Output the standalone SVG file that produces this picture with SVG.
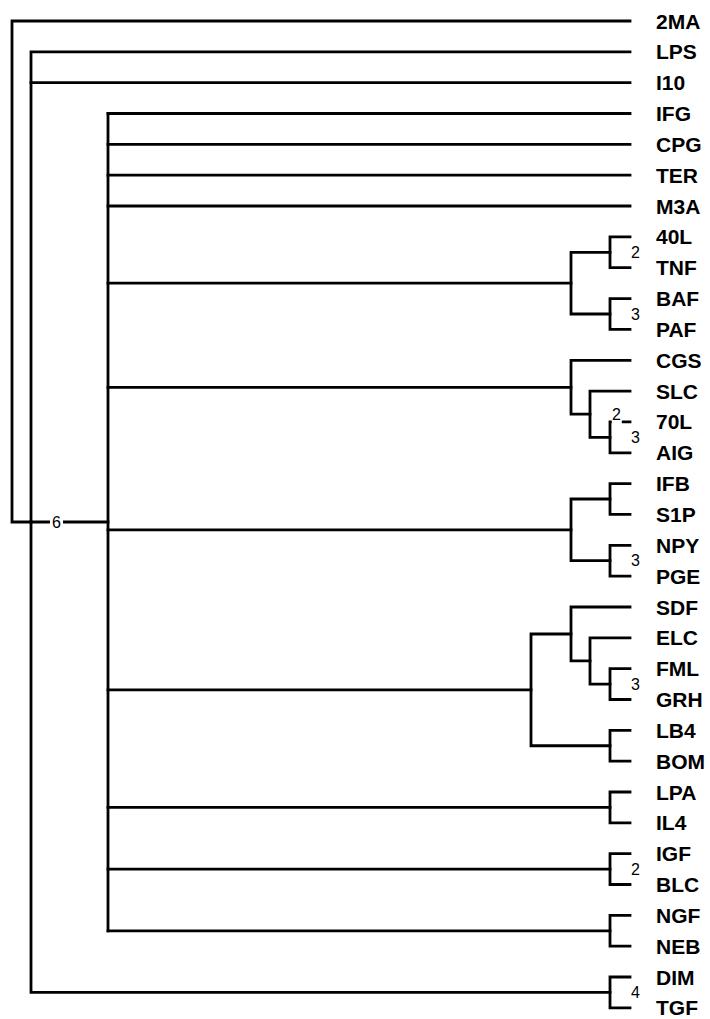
<svg xmlns="http://www.w3.org/2000/svg" width="710" height="1019" viewBox="0 0 710 1019">
<style>
.c{fill:none;stroke:#000;stroke-width:2.8;stroke-linejoin:miter;stroke-linecap:square}
.l{font-family:"Liberation Sans",Arial,sans-serif;font-weight:bold;font-size:21px;fill:#000}
.n{font-family:"Liberation Sans",Arial,sans-serif;font-size:16px;fill:#000}
.bg{fill:#fff}
</style>
<rect width="710" height="1019" fill="#fff"/>
<g id="connectors" class="c">
<path d="M630 21 H12 V522 H31"/>
<path d="M630 51.8 H31 V992.4 H610"/>
<path d="M31 82.7 H630"/>
<path d="M31 522 H108"/>
<path d="M108 113.5 H630"/>
<path d="M108 113.5 V930.8"/>
<path d="M108 144.4 H630"/>
<path d="M108 175.2 H630"/>
<path d="M108 206 H630"/>
<path d="M108 283.2 H571"/>
<path d="M610 252.3 H571 V314 H610"/>
<path d="M630 236.9 H610 V267.7 H630"/>
<path d="M630 298.6 H610 V329.4 H630"/>
<path d="M108 387.3 H571"/>
<path d="M630 360.3 H571 V414.2 H590"/>
<path d="M630 391.1 H590 V437.35 H610"/>
<path d="M630 421.9 H610 V452.8 H630"/>
<path d="M108 529.9 H571"/>
<path d="M610 499 H571 V560.7 H610"/>
<path d="M630 483.6 H610 V514.4 H630"/>
<path d="M630 545.3 H610 V576.1 H630"/>
<path d="M108 689.9 H531"/>
<path d="M571 634 H531 V745.75 H610"/>
<path d="M630 607 H571 V660.9 H590"/>
<path d="M630 637.8 H590 V684.05 H610"/>
<path d="M630 668.6 H610 V699.5 H630"/>
<path d="M630 730.3 H610 V761.2 H630"/>
<path d="M108 807.4 H610"/>
<path d="M630 792 H610 V822.9 H630"/>
<path d="M108 869.1 H610"/>
<path d="M630 853.7 H610 V884.5 H630"/>
<path d="M108 930.8 H610"/>
<path d="M630 915.4 H610 V946.2 H630"/>
<path d="M630 977 H610 V1007.9 H630"/>
</g>
<g id="node-6"><rect class="bg" x="50" y="513" width="13" height="18"/><text class="n" x="52" y="527.7">6</text></g>
<g id="node-40L-TNF"><text class="n" x="631" y="258">2</text></g>
<g id="node-BAF-PAF"><text class="n" x="631" y="319.7">3</text></g>
<g id="node-SLC-70L-AIG"><rect class="bg" x="611.8" y="404" width="10" height="20"/><text class="n" x="612" y="419.9">2</text></g>
<g id="node-70L-AIG"><text class="n" x="631" y="443">3</text></g>
<g id="node-NPY-PGE"><text class="n" x="631" y="566.4">3</text></g>
<g id="node-FML-GRH"><text class="n" x="631" y="689.7">3</text></g>
<g id="node-IGF-BLC"><text class="n" x="631" y="874.8">2</text></g>
<g id="node-DIM-TGF"><text class="n" x="631" y="998.1">4</text></g>
<g id="leaf-2MA"><text class="l" x="656" y="28.5">2MA</text></g>
<g id="leaf-LPS"><text class="l" x="656" y="59.3">LPS</text></g>
<g id="leaf-I10"><text class="l" x="656" y="90.2">I10</text></g>
<g id="leaf-IFG"><text class="l" x="656" y="121">IFG</text></g>
<g id="leaf-CPG"><text class="l" x="656" y="151.9">CPG</text></g>
<g id="leaf-TER"><text class="l" x="656" y="182.7">TER</text></g>
<g id="leaf-M3A"><text class="l" x="656" y="213.5">M3A</text></g>
<g id="leaf-40L"><text class="l" x="656" y="244.4">40L</text></g>
<g id="leaf-TNF"><text class="l" x="656" y="275.2">TNF</text></g>
<g id="leaf-BAF"><text class="l" x="656" y="306.1">BAF</text></g>
<g id="leaf-PAF"><text class="l" x="656" y="336.9">PAF</text></g>
<g id="leaf-CGS"><text class="l" x="656" y="367.8">CGS</text></g>
<g id="leaf-SLC"><text class="l" x="656" y="398.6">SLC</text></g>
<g id="leaf-70L"><text class="l" x="656" y="429.4">70L</text></g>
<g id="leaf-AIG"><text class="l" x="656" y="460.3">AIG</text></g>
<g id="leaf-IFB"><text class="l" x="656" y="491.1">IFB</text></g>
<g id="leaf-S1P"><text class="l" x="656" y="521.9">S1P</text></g>
<g id="leaf-NPY"><text class="l" x="656" y="552.8">NPY</text></g>
<g id="leaf-PGE"><text class="l" x="656" y="583.6">PGE</text></g>
<g id="leaf-SDF"><text class="l" x="656" y="614.5">SDF</text></g>
<g id="leaf-ELC"><text class="l" x="656" y="645.3">ELC</text></g>
<g id="leaf-FML"><text class="l" x="656" y="676.1">FML</text></g>
<g id="leaf-GRH"><text class="l" x="656" y="707">GRH</text></g>
<g id="leaf-LB4"><text class="l" x="656" y="737.8">LB4</text></g>
<g id="leaf-BOM"><text class="l" x="656" y="768.7">BOM</text></g>
<g id="leaf-LPA"><text class="l" x="656" y="799.5">LPA</text></g>
<g id="leaf-IL4"><text class="l" x="656" y="830.4">IL4</text></g>
<g id="leaf-IGF"><text class="l" x="656" y="861.2">IGF</text></g>
<g id="leaf-BLC"><text class="l" x="656" y="892">BLC</text></g>
<g id="leaf-NGF"><text class="l" x="656" y="922.9">NGF</text></g>
<g id="leaf-NEB"><text class="l" x="656" y="953.7">NEB</text></g>
<g id="leaf-DIM"><text class="l" x="656" y="984.5">DIM</text></g>
<g id="leaf-TGF"><text class="l" x="656" y="1015.4">TGF</text></g>
</svg>
